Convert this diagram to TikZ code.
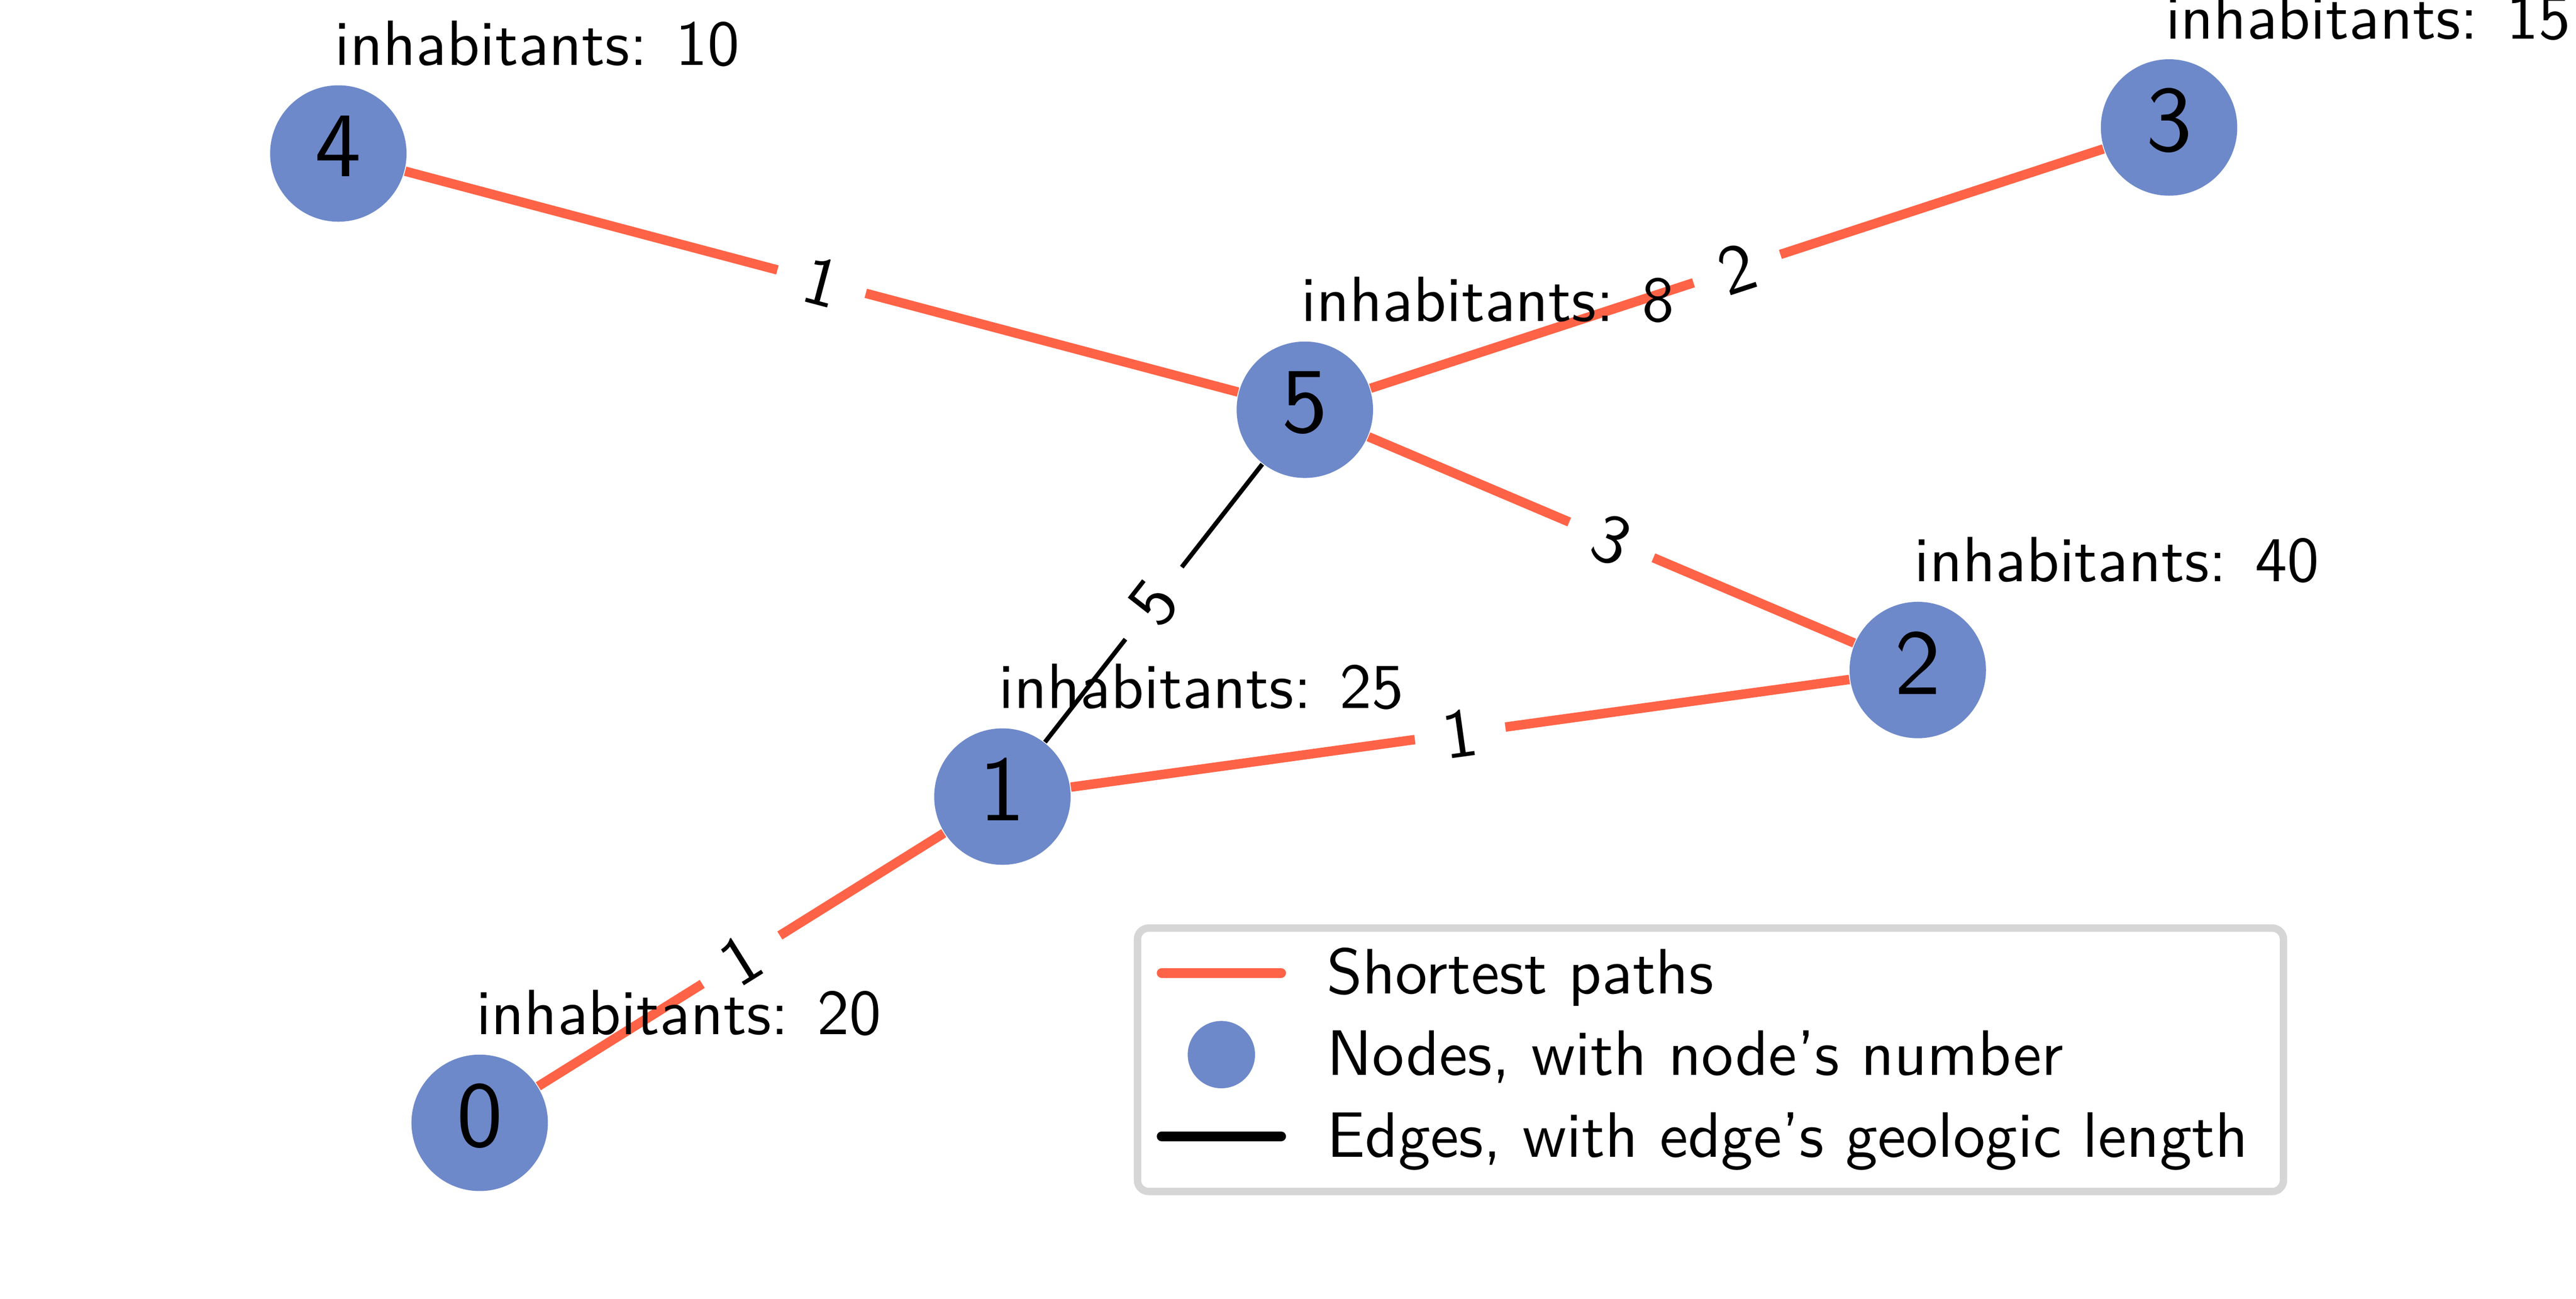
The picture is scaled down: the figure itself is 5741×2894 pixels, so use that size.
\documentclass[tikz,border=0pt]{standalone}
\usepackage{fontspec}
\newfontfamily\lmsten{lmsans10-regular.otf}[Ligatures=TeX]
\usetikzlibrary{calc}
\definecolor{nodeblue}{RGB}{110,137,202}
\definecolor{pathred}{RGB}{255,99,71}
\definecolor{legendgray}{RGB}{214,214,214}
\pgfdeclarelayer{background}
\pgfsetlayers{background,main}
\tikzset{
  vert/.style={circle, fill=nodeblue, minimum size=30.4pt, inner sep=0pt},
  numtxt/.style={font=\lmsten\fontsize{20.6}{24}\selectfont, inner sep=0pt},
  inhab/.style={font=\lmsten\fontsize{14.25}{17}\selectfont, anchor=base west, inner sep=0pt},
  pathedge/.style={draw=pathred, line width=2.1pt},
  plainedge/.style={draw=black, line width=1pt},
  elabel/.style={fill=white, font=\lmsten\fontsize{15.5}{18}\selectfont, sloped, midway, inner xsep=6.3pt, inner ysep=3pt},
  legtext/.style={font=\lmsten\fontsize{14.3}{17}\selectfont, anchor=base west, inner sep=0pt},
  legline/.style={line width=2.2pt, line cap=round},
}
\begin{document}
\begin{tikzpicture}[x=0.1pt, y=-0.1pt]
\useasboundingbox (0,0) rectangle (5741,2894);
% graph nodes
\node[vert] (n4) at (754,342) {};
\node[vert] (n3) at (4834,284) {};
\node[vert] (n5) at (2908,913) {};
\node[vert] (n2) at (4274,1493) {};
\node[vert] (n1) at (2234,1775) {};
\node[vert] (n0) at (1069,2502) {};
% node numbers
\foreach \n in {0,...,5}{
  \node[numtxt, yshift=1.6pt] (t\n) at (n\n.center) {\n};
}
% edges
\begin{pgfonlayer}{background}
\draw[pathedge] (n4) -- node[elabel] (e45) {1} (n5);
\draw[pathedge] (n5) -- node[elabel] (e53) {2} (n3);
\draw[pathedge] (n5) -- node[elabel] (e52) {3} (n2);
\draw[plainedge] (n1) -- node[elabel] (e15) {5} (n5);
\draw[pathedge] (n1) -- node[elabel] (e12) {1} (n2);
\draw[pathedge] (n0) -- node[elabel] (e01) {1} (n1);
\end{pgfonlayer}
% inhabitants
\node[inhab] (h4) at ([shift={(-10,-197)}]n4.center) {inhabitants: 10};
\node[inhab] (h3) at ([shift={(-10,-197)}]n3.center) {inhabitants: 15};
\node[inhab] (h5) at ([shift={(-10,-197)}]n5.center) {inhabitants: 8};
\node[inhab] (h2) at ([shift={(-10,-197)}]n2.center) {inhabitants: 40};
\node[inhab] (h1) at ([shift={(-10,-197)}]n1.center) {inhabitants: 25};
\node[inhab] (h0) at ([shift={(-10,-197)}]n0.center) {inhabitants: 20};
% legend
\draw[draw=legendgray, fill=white, line width=1.65pt, rounded corners=2.5pt] (2535,2068) rectangle (5089,2655);
\draw[legline, draw=pathred] (2589,2168) -- (2855,2168);
\fill[nodeblue] (2722,2350) circle (7.5pt);
\draw[legline, draw=black] (2589,2532) -- (2855,2532);
\node[legtext] (l1) at (2955,2214) {Shortest paths};
\node[legtext] (l2) at (2955,2396) {Nodes, with node's number};
\node[legtext] (l3) at (2955,2578) {Edges, with edge's geologic length};
\end{tikzpicture}
\end{document}
